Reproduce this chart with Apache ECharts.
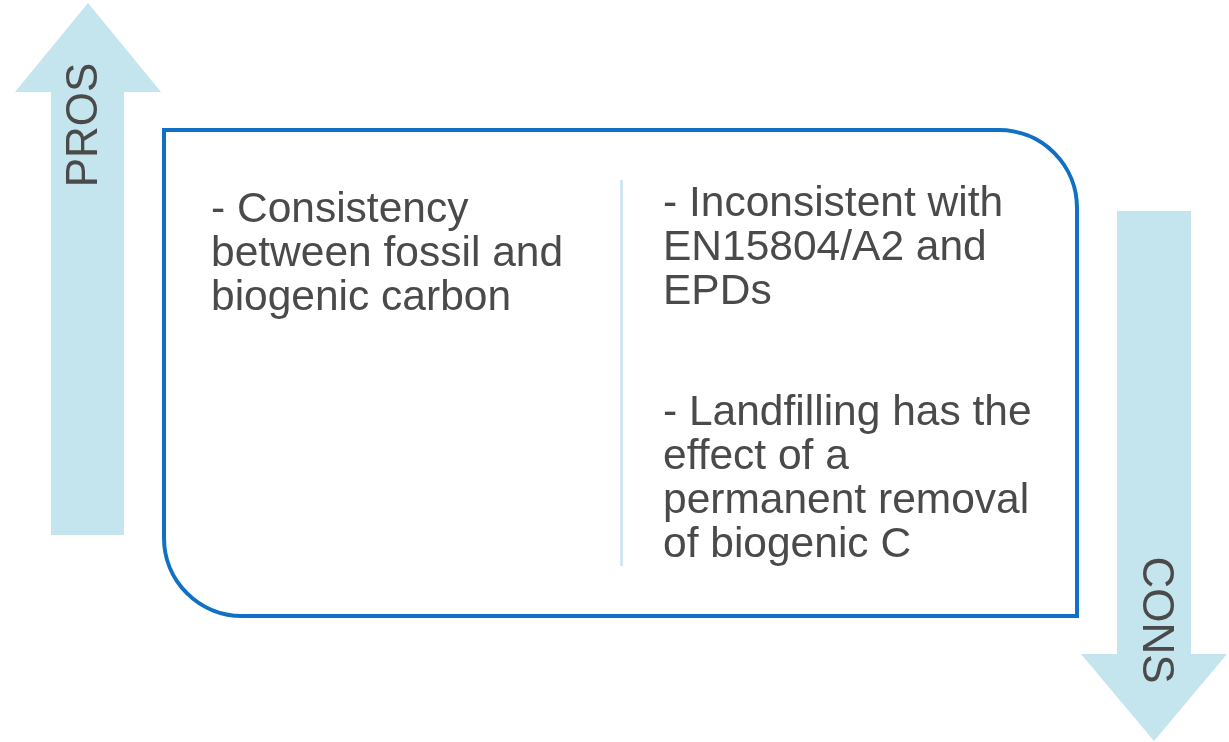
<!DOCTYPE html>
<html>
<head>
<meta charset="utf-8">
<title>Pros / Cons</title>
<script src="https://cdn.jsdelivr.net/npm/echarts@6/dist/echarts.min.js"></script>
<style>
  html, body { margin: 0; padding: 0; background: #fff; }
  #chart1 { width: 1229px; height: 742px; }
</style>
</head>
<body>
<div id="chart1"></div>
<script>
// texts of the diagram
var prosLabel = 'PROS';
var consLabel = 'CONS';
var prosLines = ['- Consistency', 'between fossil and', 'biogenic carbon'];
var consLines1 = ['- Inconsistent with', 'EN15804/A2 and', 'EPDs'];
var consLines2 = ['- Landfilling has the', 'effect of a', 'permanent removal', 'of biogenic C'];

var arrowColor = '#C4E4EE';
var boxColor = '#1070C4';
var textColor = '#4a4a4a';
var font = '"Liberation Sans", Arial, sans-serif';

var myChart1 = echarts.init(document.getElementById('chart1'));

function block(lines, x, y) {
    return {
        type: 'text',
        x: x,
        y: y,
        style: {
            text: lines.join('\n'),
            fill: textColor,
            font: '42.5px ' + font,
            lineHeight: 44,
            align: 'left',
            verticalAlign: 'top'
        }
    };
}

var option = {
    backgroundColor: '#fff',
    graphic: [
        // up arrow (pros)
        {
            type: 'polygon',
            shape: {
                points: [[88, 3], [161, 92], [124, 92], [124, 535], [51, 535], [51, 92], [15, 92]]
            },
            style: { fill: arrowColor }
        },
        {
            type: 'text',
            x: 85,
            y: 125,
            rotation: Math.PI / 2,
            style: {
                text: prosLabel,
                fill: textColor,
                font: '44px ' + font,
                align: 'center',
                verticalAlign: 'middle'
            }
        },
        // down arrow (cons)
        {
            type: 'polygon',
            shape: {
                points: [[1117, 211], [1191, 211], [1191, 654], [1227, 654], [1154, 741], [1081, 654], [1117, 654]]
            },
            style: { fill: arrowColor }
        },
        {
            type: 'text',
            x: 1155,
            y: 620,
            rotation: -Math.PI / 2,
            style: {
                text: consLabel,
                fill: textColor,
                font: '44px ' + font,
                align: 'center',
                verticalAlign: 'middle'
            }
        },
        // box
        {
            type: 'rect',
            shape: { x: 164, y: 130, width: 913, height: 486, r: [0, 78, 0, 78] },
            style: { fill: 'none', stroke: boxColor, lineWidth: 4, lineJoin: 'miter', lineCap: 'square' }
        },
        // divider
        {
            type: 'line',
            shape: { x1: 621.5, y1: 180, x2: 621.5, y2: 566 },
            style: { stroke: arrowColor, lineWidth: 2.5 }
        },
        block(prosLines, 211, 188),
        block(consLines1, 663, 182),
        block(consLines2, 663, 391)
    ]
};
myChart1.setOption(option);
</script>
</body>
</html>
